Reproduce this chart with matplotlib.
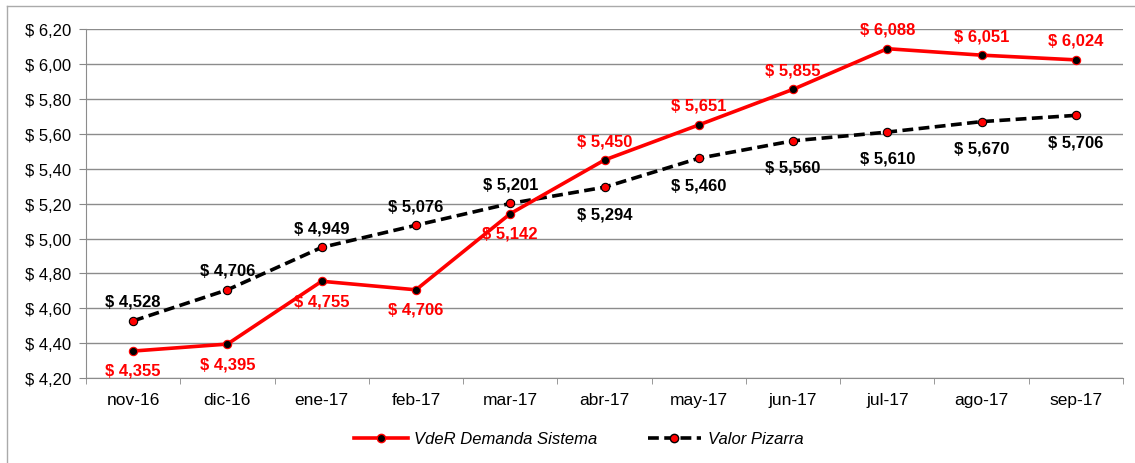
import numpy as np
import matplotlib.pyplot as plt
from matplotlib.lines import Line2D

months = ["nov-16", "dic-16", "ene-17", "feb-17", "mar-17", "abr-17",
          "may-17", "jun-17", "jul-17", "ago-17", "sep-17"]
vder = [4.355, 4.395, 4.755, 4.706, 5.142, 5.450, 5.651, 5.855, 6.088, 6.051, 6.024]
pizarra = [4.528, 4.706, 4.949, 5.076, 5.201, 5.294, 5.460, 5.560, 5.610, 5.670, 5.706]

# label side: +1 above, -1 below
vder_side = [-1, -1, -1, -1, -1, 1, 1, 1, 1, 1, 1]
piz_side = [1, 1, 1, 1, 1, -1, -1, -1, -1, -1, -1]

plt.rcParams["font.family"] = ["Liberation Sans", "DejaVu Sans"]


def fmt(v, nd):
    return "$ " + f"{v:.{nd}f}".replace(".", ",")


fig = plt.figure(figsize=(11.35, 4.64), dpi=100)
ax = fig.add_axes([0.0758, 0.183, 0.9136, 0.752])

x = np.arange(len(months))
ax.plot(x, vder, color="#ff0000", lw=2.6, marker="o", ms=6,
        mfc="black", mec="#ff0000", mew=0.8, zorder=4)
ax.plot(x, pizarra, color="black", lw=2.6, ls=(0, (3.0, 1.5)), marker="o", ms=6,
        mfc="#ff0000", mec="black", mew=0.8, zorder=3)

for xi, v, s in zip(x, vder, vder_side):
    ax.annotate(fmt(v, 3), (xi, v), xytext=(0, 14 * s), textcoords="offset points",
                ha="center", va="center", color="#ff0000", fontsize=12,
                fontweight="bold")
for xi, v, s in zip(x, pizarra, piz_side):
    ax.annotate(fmt(v, 3), (xi, v), xytext=(0, 14 if s > 0 else -19),
                textcoords="offset points", ha="center", va="center",
                color="black", fontsize=12, fontweight="bold")

ax.set_xlim(-0.5, len(months) - 0.5)
ax.set_ylim(4.2, 6.2)
yt = np.arange(4.2, 6.21, 0.2)
ax.set_yticks(yt)
ax.set_yticklabels([fmt(v, 2) for v in yt], fontsize=12)
ax.set_xticks(x)
ax.set_xticklabels(months, fontsize=12.5)
ax.set_xticks(np.arange(-0.5, len(months)), minor=True)
ax.tick_params(axis="x", which="major", length=0, pad=10)
ax.tick_params(axis="x", which="minor", length=4, color="#888888")
ax.tick_params(axis="y", length=5, color="#888888", pad=6)
ax.grid(axis="y", color="#8c8c8c", lw=1)
ax.set_axisbelow(True)
for sp in ["top", "right"]:
    ax.spines[sp].set_visible(False)
for sp in ["left", "bottom"]:
    ax.spines[sp].set_color("#8c8c8c")

handles = [
    Line2D([], [], color="#ff0000", lw=2.6, marker="o", ms=6, mfc="black", mec="#ff0000"),
    Line2D([], [], color="black", lw=2.6, ls=(0, (3.0, 1.5)), marker="o", ms=6,
           mfc="#ff0000", mec="black"),
]
fig.legend(handles, ["VdeR Demanda Sistema", "Valor Pizarra"], loc="center",
           bbox_to_anchor=(0.51, 0.052), ncol=2, frameon=False,
           prop={"style": "italic", "size": 12}, handlelength=3.2,
           handletextpad=0.4, columnspacing=3)

fig.add_artist(Line2D([0.006, 0.006], [0, 0.985], color="#aaaaaa", lw=1,
                      transform=fig.transFigure))
fig.add_artist(Line2D([0.006, 1], [0.985, 0.985], color="#aaaaaa", lw=1,
                      transform=fig.transFigure))

fig.savefig("out.png", dpi=100)
